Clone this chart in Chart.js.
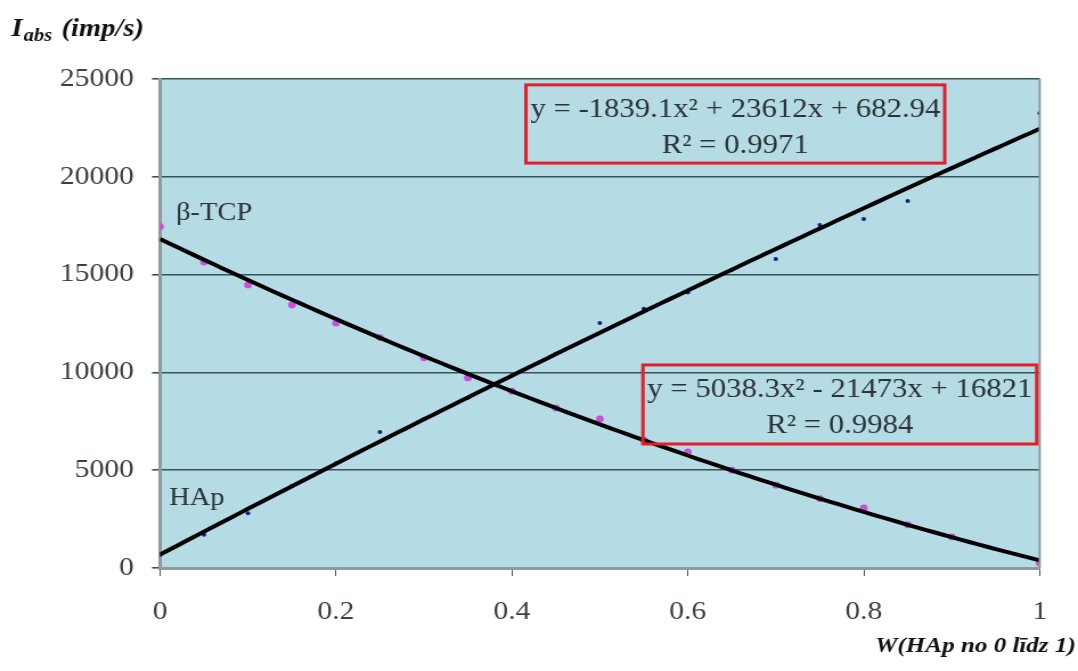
<!DOCTYPE html>
<html>
<head>
<meta charset="utf-8">
<script src="https://cdn.jsdelivr.net/npm/chart.js@4"></script>
<style>
  html, body { margin: 0; padding: 0; background: #ffffff; overflow: hidden; }
  /* the chart is rendered narrower and widened by CSS, giving the wide serif look */
  #c { display: block; width: 1078px; height: 671px; }
</style>
</head>
<body>
<canvas id="c" width="946" height="671" style="width:1078px;height:671px"></canvas>
<script>
// Measured intensity vs. HAp fraction
const hapX   = [0, 0.05, 0.1, 0.15, 0.2, 0.25, 0.3, 0.35, 0.4, 0.45, 0.5, 0.55, 0.6, 0.65, 0.7, 0.75, 0.8, 0.85, 0.9, 1];
const hapY   = [660, 1700, 2800, 4200, 5350, 6950, 7600, 8700, 9850, 10950, 12520, 13250, 14080, 15250, 15800, 17540, 17840, 18760, 20450, 23250];
const tcpX   = [0, 0.05, 0.1, 0.15, 0.2, 0.25, 0.3, 0.35, 0.4, 0.45, 0.5, 0.55, 0.6, 0.65, 0.7, 0.75, 0.8, 0.85, 0.9, 1];
const tcpY   = [17450, 15650, 14470, 13450, 12520, 11780, 10750, 9720, 9040, 8180, 7620, 6540, 5930, 5000, 4240, 3550, 3070, 2210, 1590, 250];

// Quadratic trendline coefficients [a, b, c] for y = a x^2 + b x + c
const hapFit = [-1839.1, 23612, 682.94];
const tcpFit = [5038.3, -21473, 16821];
const hapFitLabel = ['y = -1839.1x\u00B2 + 23612x + 682.94', 'R\u00B2 = 0.9971'];
const tcpFitLabel = ['y = 5038.3x\u00B2 - 21473x + 16821', 'R\u00B2 = 0.9984'];

const xTicks = [0, 0.2, 0.4, 0.6, 0.8, 1];
const yTicks = [0, 5000, 10000, 15000, 20000, 25000];

const seriesNames = ['HAp', '\u03B2-TCP'];
const yTitle = ['I', 'abs', ' (imp/s)'];
const xTitle = 'W(HAp no 0 l\u012Bdz 1)';

const pts = (xs, ys) => xs.map((x, i) => ({ x, y: ys[i] }));
const curve = (k) => {
  const out = [];
  for (let i = 0; i <= 100; i++) {
    const x = i / 100;
    out.push({ x, y: k[0] * x * x + k[1] * x + k[2] });
  }
  return out;
};

const SERIF = '"Liberation Serif", "DejaVu Serif", serif';
const TEXT = '#2b3336';

const decor = {
  id: 'decor',
  beforeDraw(chart) {
    const { ctx, chartArea: a } = chart;
    ctx.save();
    ctx.fillStyle = '#b5dbe5';
    ctx.fillRect(a.left, a.top, a.right - a.left, a.bottom - a.top);
    ctx.restore();
  },
  afterDraw(chart) {
    const { ctx, chartArea: a, scales } = chart;
    const xs = scales.x, ys = scales.y;
    ctx.save();
    // right frame edge
    ctx.strokeStyle = '#8e9a9d';
    ctx.lineWidth = 2;
    ctx.beginPath();
    ctx.moveTo(a.right, a.top);
    ctx.lineTo(a.right, a.bottom);
    ctx.stroke();

    // series labels
    ctx.fillStyle = TEXT;
    ctx.font = '25px ' + SERIF;
    ctx.textBaseline = 'alphabetic';
    ctx.textAlign = 'left';
    ctx.fillText(seriesNames[1], a.left + 14, 220);
    ctx.fillText(seriesNames[0], a.left + 8, 505);

    // trendline equation boxes
    const box = (lines, x0, x1, yTop, yBot) => {
      const l = xs.getPixelForValue(x0), r = xs.getPixelForValue(x1);
      const t = ys.getPixelForValue(yTop), b = ys.getPixelForValue(yBot);
      ctx.strokeStyle = '#e3202a';
      ctx.lineWidth = 3;
      ctx.strokeRect(l, t, r - l, b - t);
      ctx.fillStyle = TEXT;
      ctx.font = '27px ' + SERIF;
      ctx.textAlign = 'center';
      const cx = (l + r) / 2;
      ctx.fillText(lines[0], cx, t + 32);
      ctx.fillText(lines[1], cx, t + 68);
    };
    box(hapFitLabel, 0.416, 0.892, 24700, 20700);
    box(tcpFitLabel, 0.549, 0.9966, 10380, 6340);

    // axis titles
    ctx.fillStyle = '#111';
    ctx.textAlign = 'left';
    ctx.font = 'italic bold 25px ' + SERIF;
    let x = 10;
    const yb = 36;
    ctx.fillText(yTitle[0], x, yb);
    x += ctx.measureText(yTitle[0]).width + 1;
    ctx.font = 'italic bold 18px ' + SERIF;
    ctx.fillText(yTitle[1], x, yb + 5);
    x += ctx.measureText(yTitle[1]).width + 2;
    ctx.font = 'italic bold 25px ' + SERIF;
    ctx.fillText(yTitle[2], x, yb);

    ctx.textAlign = 'right';
    ctx.font = 'italic bold 22px ' + SERIF;
    ctx.fillText(xTitle, chart.width - 2, 652);
    ctx.restore();
  }
};

new Chart(document.getElementById('c'), {
  type: 'scatter',
  data: {
    datasets: [
      { label: 'HAp fit', type: 'line', data: curve(hapFit), borderColor: '#000', borderWidth: 4,
        pointRadius: 0, fill: false, tension: 0, order: 0 },
      { label: '\u03B2-TCP fit', type: 'line', data: curve(tcpFit), borderColor: '#000', borderWidth: 4,
        pointRadius: 0, fill: false, tension: 0, order: 0 },
      { label: seriesNames[0], data: pts(hapX, hapY), backgroundColor: '#1c1c78', borderColor: '#1c1c78',
        pointRadius: 2, pointBorderWidth: 0, order: 1 },
      { label: seriesNames[1], data: pts(tcpX, tcpY), backgroundColor: '#d04ed6', borderColor: '#d04ed6',
        pointRadius: 3.4, pointBorderWidth: 0, order: 1 }
    ]
  },
  options: {
    responsive: false,
    animation: false,
    devicePixelRatio: 1,
    layout: { padding: { left: 0, right: 33.6, top: 79, bottom: 0 } },
    plugins: { legend: { display: false }, tooltip: { enabled: false } },
    scales: {
      x: {
        type: 'linear', min: 0, max: 1,
        afterBuildTicks: (s) => { s.ticks = xTicks.map(v => ({ value: v })); },
        afterFit: (s) => { s.height = 103; },
        ticks: { font: { family: SERIF, size: 26 }, color: '#3a3f41', padding: 21,
                 callback: (v) => String(v) },
        grid: { drawOnChartArea: false, color: '#555', tickLength: 8, lineWidth: 1 },
        border: { color: '#8e9a9d', width: 3 }
      },
      y: {
        type: 'linear', min: 0, max: 25000,
        afterBuildTicks: (s) => { s.ticks = yTicks.map(v => ({ value: v })); },
        afterFit: (s) => { s.width = 140.4; },
        ticks: { font: { family: SERIF, size: 26 }, color: '#3a3f41', padding: 16,
                 callback: (v) => String(v) },
        grid: { color: '#34535a', lineWidth: 1.6, tickLength: 7 },
        border: { color: '#8e9a9d', width: 3 }
      }
    }
  },
  plugins: [decor]
});
</script>
</body>
</html>
